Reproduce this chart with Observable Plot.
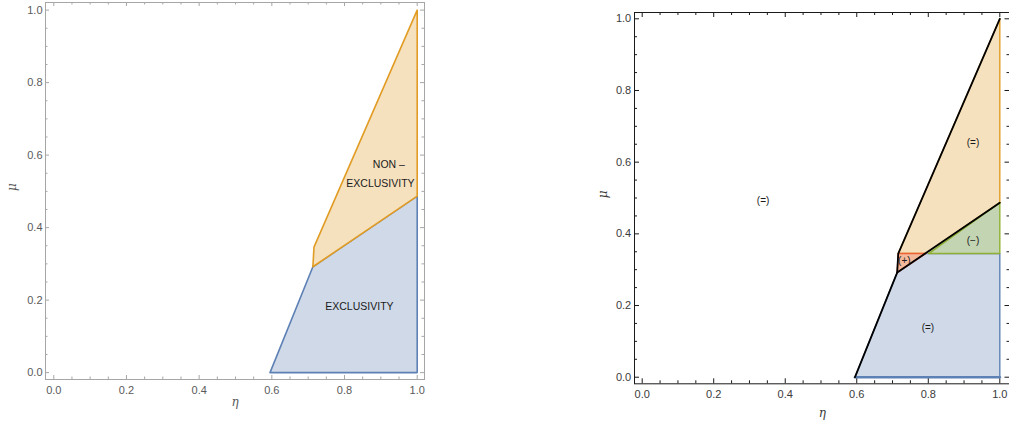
<!DOCTYPE html>
<html><head><meta charset="utf-8">
<script src="https://cdn.jsdelivr.net/npm/d3@7"></script>
<script src="https://cdn.jsdelivr.net/npm/@observablehq/plot@0.6"></script>
<style>
body{margin:0;background:#fff;}
#wrap{position:relative;width:1009px;height:423px;overflow:hidden;}
#wrap svg{position:absolute;top:0;}
g[aria-label="region-sign"] text{letter-spacing:1.6px;}
</style></head><body><div id="wrap"></div>
<script>
// ---- shared tick values / labels ----
const majorTicks = [0, 0.2, 0.4, 0.6, 0.8, 1.0];
const tickLabels = ["0.0", "0.2", "0.4", "0.6", "0.8", "1.0"];
const minorTicks = [0.05, 0.1, 0.15, 0.25, 0.3, 0.35, 0.45, 0.5, 0.55, 0.65, 0.7, 0.75, 0.85, 0.9, 0.95];

// ---- left panel regions ----
const exclEta = [0.595, 0.713, 1.0, 1.0, 0.595];
const exclMu  = [0.0, 0.292, 0.487, 0.0, 0.0];
const nonEta  = [0.713, 0.716, 1.0, 1.0, 0.713];
const nonMu   = [0.292, 0.346, 1.0, 0.487, 0.292];
const leftLabels   = ["NON –", "EXCLUSIVITY", "EXCLUSIVITY"];
const leftLabelEta = [0.922, 0.899, 0.841];
const leftLabelMu  = [0.574, 0.521, 0.181];

// ---- right panel regions ----
const blueEta  = [0.595, 0.713, 0.792, 1.0, 1.0, 0.595];
const blueMu   = [0.0, 0.292, 0.345, 0.345, 0.0, 0.0];
const orangeEta = [0.716, 1.0, 1.0, 0.792, 0.716];
const orangeMu  = [0.345, 1.0, 0.487, 0.345, 0.345];
const greenEta = [0.801, 1.0, 1.0, 0.801];
const greenMu  = [0.345, 0.345, 0.487, 0.345];
const greenFillEta = [0.792, 1.0, 1.0, 0.792];
const greenFillMu  = [0.345, 0.487, 0.345, 0.345];
const redEta = [0.713, 0.716, 0.792, 0.713];
const redMu  = [0.292, 0.345, 0.345, 0.292];
const bottomEta = [0.595, 1.0];
const bottomMu  = [0.0, 0.0];
const boundEta = [0.595, 0.713, 0.716, 1.0];
const boundMu  = [0.0, 0.292, 0.345, 1.0];
const splitEta = [0.713, 1.0];
const splitMu  = [0.292, 0.487];
const rightLabels   = ["(=)", "(=)", "(−)", "(+)", "(=)"];
const rightLabelEta = [0.338, 0.925, 0.925, 0.733, 0.799];
const rightLabelMu  = [0.491, 0.654, 0.38, 0.326, 0.138];

const zip = (xs, ys, extra) => xs.map((x, i) => ({eta: x, mu: ys[i], t: extra ? extra[i] : null}));

const FONT = "Liberation Sans, Arial, Helvetica, sans-serif";

function frameMarks(o) {
  const W = o.width - o.ml - o.mr, H = o.height - o.mt - o.mb;
  const t = (vals, len) => [
    Plot.tickX(vals, {x: d => d, insetTop: H - len, stroke: o.tickColor, strokeWidth: 1}),
    Plot.tickX(vals, {x: d => d, insetBottom: H - len, stroke: o.tickColor, strokeWidth: 1}),
    Plot.tickY(vals, {y: d => d, insetRight: W - len, stroke: o.tickColor, strokeWidth: 1}),
    Plot.tickY(vals, {y: d => d, insetLeft: W - len, stroke: o.tickColor, strokeWidth: 1})
  ];
  return [
    ...t(majorTicks, o.major),
    ...t(minorTicks, o.minor),
    Plot.frame({stroke: o.frameColor, strokeWidth: 1}),
    Plot.axisX(majorTicks, {anchor: "bottom", tickSize: 0, tickPadding: o.xPad, tickFormat: (d, i) => tickLabels[i], color: o.labelColor, fontSize: 11, label: null}),
    Plot.axisY(majorTicks, {anchor: "left", tickSize: 0, tickPadding: o.yPad, tickFormat: (d, i) => tickLabels[i], color: o.labelColor, fontSize: 11, label: null}),
    Plot.text(["η"], {frameAnchor: "bottom", dy: o.etaDy, text: d => d, fill: o.labelColor, fontSize: 12, fontStyle: "italic", fontFamily: "DejaVu Serif, serif"}),
    Plot.text(["μ"], {frameAnchor: "left", dx: o.muDx, rotate: -90, text: d => d, fill: o.labelColor, fontSize: 12, fontStyle: "italic", fontFamily: "DejaVu Serif, serif"})
  ];
}

// ---------------- LEFT ----------------
const L = {width: 500, height: 423, ml: 45, mr: 76, mt: 2, mb: 44,
  tickColor: "#a6a6a6", frameColor: "#a6a6a6", labelColor: "#5a5a5a",
  major: 4, minor: 2.5, xPad: 7, yPad: 3, etaDy: 26, muDx: -33};

const left = Plot.plot({
  width: L.width, height: L.height,
  marginLeft: L.ml, marginRight: L.mr, marginTop: L.mt, marginBottom: L.mb,
  style: {fontFamily: FONT, fontSize: "11px", background: "transparent", overflow: "visible"},
  x: {domain: [-0.0228, 1.0201], axis: null},
  y: {domain: [-0.019, 1.021], axis: null},
  marks: [
    Plot.line(zip(exclEta, exclMu), {x: "eta", y: "mu", fill: "#cfd9e8", stroke: "#5e81b5", strokeWidth: 1.6, curve: "linear"}),
    Plot.line(zip(nonEta, nonMu), {x: "eta", y: "mu", fill: "#f6e1bf", stroke: "#e19c24", strokeWidth: 1.6, curve: "linear"}),
    Plot.text(zip(leftLabelEta, leftLabelMu, leftLabels), {x: "eta", y: "mu", text: "t", fill: "#1a1a1a", fontSize: 10.5}),
    ...frameMarks(L)
  ]
});
left.style.left = "0px";

// ---------------- RIGHT ----------------
const R = {width: 430, height: 423, ml: 54, mr: 0.5, mt: 12, mb: 39.7,
  tickColor: "#1a1a1a", frameColor: "#1a1a1a", labelColor: "#3a3a3a",
  major: 5, minor: 3, xPad: 6, yPad: 3.3, etaDy: 33, muDx: -31};

const right = Plot.plot({
  width: R.width, height: R.height,
  marginLeft: R.ml, marginRight: R.mr, marginTop: R.mt, marginBottom: R.mb,
  style: {fontFamily: FONT, fontSize: "11px", background: "transparent", overflow: "visible"},
  x: {domain: [-0.0215, 1.0285], axis: null},
  y: {domain: [-0.0184, 1.0176], axis: null},
  marks: [
    Plot.line(zip(blueEta, blueMu), {x: "eta", y: "mu", fill: "#cfd9e8", stroke: "#5e81b5", strokeWidth: 1.4}),
    Plot.line(zip(orangeEta, orangeMu), {x: "eta", y: "mu", fill: "#f6e1bf", stroke: "#e19c24", strokeWidth: 1.4}),
    Plot.line(zip(greenFillEta, greenFillMu), {x: "eta", y: "mu", fill: "#c3d4b2", stroke: "none"}),
    Plot.line(zip(greenEta, greenMu), {x: "eta", y: "mu", stroke: "#8fb032", strokeWidth: 1.4}),
    Plot.line(zip(redEta, redMu), {x: "eta", y: "mu", fill: "#f4b99a", stroke: "#eb6235", strokeWidth: 1.4}),
    Plot.line(zip(bottomEta, bottomMu), {x: "eta", y: "mu", stroke: "#5e81b5", strokeWidth: 2.6}),
    Plot.line(zip(boundEta, boundMu), {x: "eta", y: "mu", stroke: "#000", strokeWidth: 1.8}),
    Plot.line(zip(splitEta, splitMu), {x: "eta", y: "mu", stroke: "#000", strokeWidth: 1.8}),
    Plot.text(zip(rightLabelEta, rightLabelMu, rightLabels), {x: "eta", y: "mu", text: "t", fill: "#1a1a1a", fontSize: 10, ariaLabel: "region-sign"}),
    ...frameMarks(R)
  ]
});
right.style.left = "580px";

const wrap = document.getElementById("wrap");
wrap.appendChild(left);
wrap.appendChild(right);
</script>
</body></html>
